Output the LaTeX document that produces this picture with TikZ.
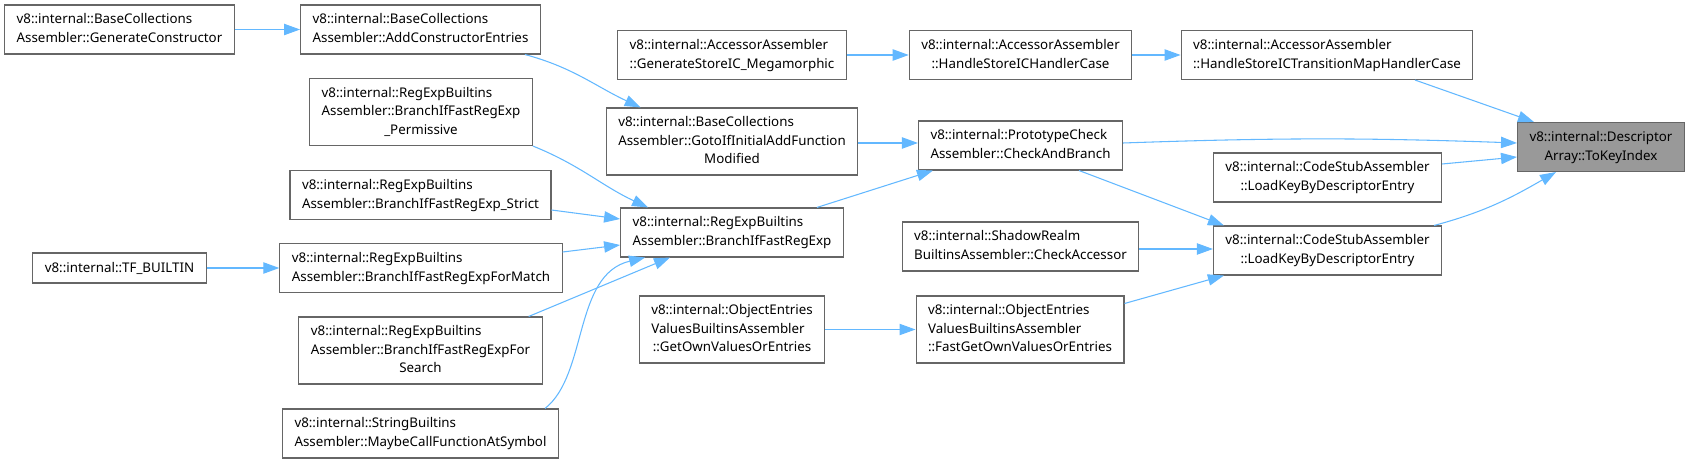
\documentclass[tikz,border=0pt]{standalone}
\usepackage{fontspec}
\setmainfont{Noto Sans}
\usepackage{tikz}
\usetikzlibrary{positioning, arrows.meta, calc}
\usepackage{xcolor}

\definecolor{callblue}{HTML}{63B8FF}
\definecolor{boxgray}{HTML}{666666}
\definecolor{targetgray}{HTML}{999999}

% label lines: left aligned, last one centred
\newcommand{\twoln}[2]{\begin{tabular}{@{}l@{}}#1\\\multicolumn{1}{@{}c@{}}{#2}\end{tabular}}
\newcommand{\threeln}[3]{\begin{tabular}{@{}l@{}}#1\\#2\\\multicolumn{1}{@{}c@{}}{#3}\end{tabular}}

\begin{document}
\begin{tikzpicture}[
    x=0.75pt, y=0.75pt,
    caller/.style={rectangle, draw=boxgray, line width=0.8pt, fill=white, inner xsep=9pt, inner ysep=0pt, minimum height=36.75pt, font=\fontsize{10}{14}\selectfont},
    tall/.style={minimum height=50.25pt},
    short/.style={minimum height=22.5pt},
    target/.style={caller, fill=targetgray},
    call/.style={-{Triangle[length=12pt, width=8.5pt]}, line width=0.8pt, callblue}
]
\useasboundingbox (0,0) rectangle (1690,-463);

% Target of the call graph
\node[target] (ToKey) at (1601,-147) {\twoln{v8::internal::Descriptor}{Array::ToKeyIndex}};

% Direct callers
\node[caller] (TransMap) at (1327,-55) {\twoln{v8::internal::AccessorAssembler}{::HandleStoreICTransitionMapHandlerCase}};
\node[caller] (LoadKeyA) at (1327.5,-177.5) {\twoln{v8::internal::CodeStubAssembler}{::LoadKeyByDescriptorEntry}};
\node[caller] (LoadKeyB) at (1327.5,-250.5) {\twoln{v8::internal::CodeStubAssembler}{::LoadKeyByDescriptorEntry}};

% Second column
\node[caller] (HandleIC) at (1020.5,-55) {\twoln{v8::internal::AccessorAssembler}{::HandleStoreICHandlerCase}};
\node[caller] (CheckBranch) at (1020.5,-145.5) {\twoln{v8::internal::PrototypeCheck}{Assembler::CheckAndBranch}};
\node[caller] (Shadow) at (1020.5,-246.5) {\twoln{v8::internal::ShadowRealm}{BuiltinsAssembler::CheckAccessor}};
\node[caller, tall] (FastGetOwn) at (1020,-329.5) {\threeln{v8::internal::ObjectEntries}{ValuesBuiltinsAssembler}{::FastGetOwnValuesOrEntries}};

% Third column
\node[caller] (GenStoreIC) at (732,-55) {\twoln{v8::internal::AccessorAssembler}{::GenerateStoreIC\_Megamorphic}};
\node[caller, tall] (GotoIf) at (732,-141.5) {\threeln{v8::internal::BaseCollections}{Assembler::GotoIfInitialAddFunction}{Modified}};
\node[caller] (BranchFast) at (732,-232.5) {\twoln{v8::internal::RegExpBuiltins}{Assembler::BranchIfFastRegExp}};
\node[caller, tall] (GetOwn) at (732,-329.5) {\threeln{v8::internal::ObjectEntries}{ValuesBuiltinsAssembler}{::GetOwnValuesOrEntries}};

% Fourth column
\node[caller] (AddCtor) at (420.5,-29.5) {\twoln{v8::internal::BaseCollections}{Assembler::AddConstructorEntries}};
\node[caller, tall] (Permissive) at (421,-112) {\threeln{v8::internal::RegExpBuiltins}{Assembler::BranchIfFastRegExp}{\_Permissive}};
\node[caller] (Strict) at (420.5,-195) {\twoln{v8::internal::RegExpBuiltins}{Assembler::BranchIfFastRegExp\_Strict}};
\node[caller] (ForMatch) at (421,-268) {\twoln{v8::internal::RegExpBuiltins}{Assembler::BranchIfFastRegExpForMatch}};
\node[caller, tall] (ForSearch) at (420.5,-350.5) {\threeln{v8::internal::RegExpBuiltins}{Assembler::BranchIfFastRegExpFor}{Search}};
\node[caller] (MaybeCall) at (420.5,-433.5) {\twoln{v8::internal::StringBuiltins}{Assembler::MaybeCallFunctionAtSymbol}};

% Leftmost column
\node[caller] (GenCtor) at (119.5,-29.5) {\twoln{v8::internal::BaseCollections}{Assembler::GenerateConstructor}};
\node[caller, short] (TFBuiltin) at (119.5,-268) {v8::internal::TF\_BUILTIN};

% Calls into the target
\draw[call] ($(TransMap.south)+(88,0)$) -- ($(ToKey.north west)+(17,0)$);
\draw[call] ($(CheckBranch.east)+(0,2.5)$) to[bend left=2] ($(ToKey.west)+(0,4)$);
\draw[call] ($(LoadKeyA.east)+(0,13.5)$) -- ($(ToKey.west)+(0,-10)$);
\draw[call] ($(LoadKeyB.north east)+(-8,0)$) to[out=15, in=-150] ($(ToKey.south west)+(39,0)$);

% Calls into the direct callers
\draw[call] (HandleIC) -- (TransMap);
\draw[call] ($(CheckBranch.south east)+(-44,0)$) -- ($(LoadKeyB.north west)+(11,0)$);
\draw[call] ($(Shadow.east)+(0,-2.5)$) -- ($(LoadKeyB.west)+(0,1.5)$);
\draw[call] ($(FastGetOwn.east)+(0,26)$) -- ($(LoadKeyB.south west)+(11,0)$);

% Middle layer
\draw[call] (GenStoreIC) -- (HandleIC);
\draw[call] ($(GotoIf.east)+(0,-1.5)$) -- ($(CheckBranch.west)+(0,2.5)$);
\draw[call] ($(BranchFast.north east)+(-27,0)$) -- ($(CheckBranch.south west)+(15,0)$);
\draw[call] (GetOwn) -- (FastGetOwn);

% RegExp callers
\draw[call] ($(AddCtor.south east)+(-16,0)$) to[out=-15, in=155] ($(GotoIf.north west)+(35,0)$);
\draw[call] (Permissive.south east) to[out=-22, in=155] ($(BranchFast.north west)+(28,0)$);
\draw[call] ($(Strict.east)+(0,-15)$) -- ($(BranchFast.west)+(0,13.5)$);
\draw[call] ($(ForMatch.east)+(0,16)$) -- ($(BranchFast.west)+(0,-12.5)$);
\draw[call] ($(ForSearch.north east)+(-14,0)$) -- ($(BranchFast.south)+(-62,0)$);
\draw[call] ($(MaybeCall.north east)+(-14,0)$) .. controls +(43,34) and +(-72,-17) .. ($(BranchFast.south west)+(25,0)$);

% Left edges
\draw[call] (GenCtor) -- (AddCtor);
\draw[call] (TFBuiltin) -- (ForMatch);
\end{tikzpicture}
\end{document}
